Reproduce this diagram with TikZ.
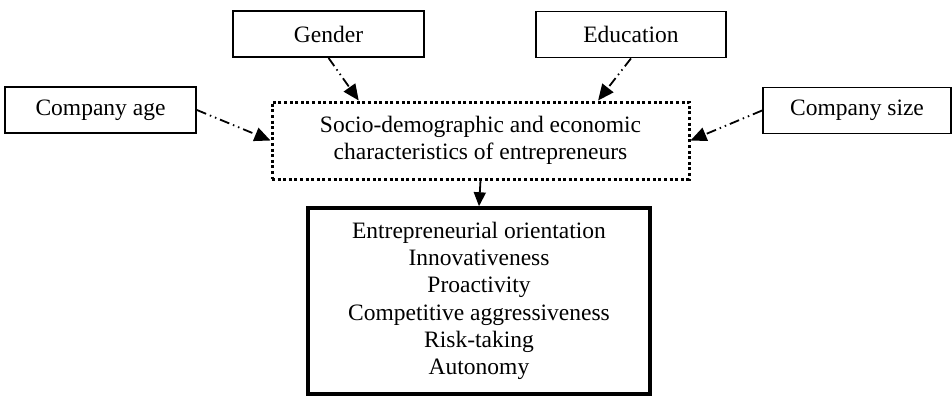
\documentclass[tikz,border=0pt]{standalone}
\usepackage{fontspec}
\setmainfont{Liberation Serif}
\usetikzlibrary{arrows.meta,calc}
\newlength{\du}
\setlength{\du}{1pt}
\tikzset{
  factorbox/.style={draw=black, line width=1.8\du, minimum height=46\du, inner sep=0pt, font=\fontsize{23.5}{27}\selectfont},
  sociobox/.style={draw=black, line width=3\du, dash pattern=on 3\du off 2.6\du, minimum width=417\du, minimum height=77\du, inner sep=0pt, align=center, font=\fontsize{23.5}{27}\selectfont},
  orientbox/.style={draw=black, line width=3.5\du, minimum width=342\du, minimum height=186\du, inner sep=0pt, align=center, font=\fontsize{23.5}{27.3}\selectfont},
  influence/.style={line width=1.8\du, dash pattern=on 10\du off 4\du on 1.5\du off 4\du on 1.5\du off 4\du, -{Triangle[length=16pt,width=14pt]}},
  effect/.style={line width=1.8\du, -{Triangle[length=14pt,width=12pt]}}
}
\begin{document}
\begin{tikzpicture}
\pgftransformxscale{1.000000}
\pgftransformyscale{-1.000000}
\useasboundingbox (0\du,0\du) rectangle (952\du,396\du);
% factors
\node[factorbox, minimum width=191\du] (age) at (100.5\du,110\du){Company age};
\node[factorbox, minimum width=191\du] (gender) at (328.5\du,34\du){Gender};
\node[factorbox, minimum width=190\du] (education) at (631\du,34.5\du){Education};
\node[factorbox, minimum width=188\du] (size) at (857\du,110.5\du){Company size};
% characteristics
\node[sociobox] (socio) at (480.5\du,140.5\du){Socio-demographic and economic\\characteristics of entrepreneurs};
% orientation
\node[orientbox] (orient) at (479\du,301\du){Entrepreneurial orientation\\Innovativeness\\Proactivity\\Competitive aggressiveness\\Risk-taking\\Autonomy};
\coordinate (gin) at ($(socio.north west)!0.21!(socio.north east)$);
\coordinate (ein) at ($(socio.north west)!0.78!(socio.north east)$);
% arrows
\draw[influence] (age.east) -- (socio.west);
\draw[influence] (gender.south) -- (gin);
\draw[influence] (education.south) -- (ein);
\draw[influence] (size.west) -- (socio.east);
\draw[effect] (socio.south) -- (orient.north);
\end{tikzpicture}
\end{document}
